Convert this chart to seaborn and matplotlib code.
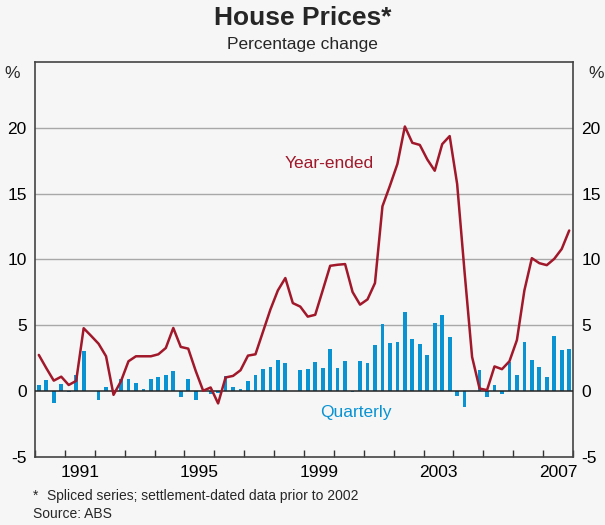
import numpy as np
import pandas as pd
import matplotlib
import matplotlib.pyplot as plt
import seaborn as sns

matplotlib.use('agg')

# quarterly data, 1990Q1 .. 2007Q4
quarters = pd.period_range('1990Q1', '2007Q4', freq='Q')
quarterly = [0.5, 0.88, -0.88, 0.58, -0.1, 1.19, 3.05, 0.0, -0.68, 0.28,
             0.0, 0.93, 0.93, 0.63, 0.13, 0.93, 1.09, 1.19, 1.54, -0.43,
             0.96, -0.68, 0.0, -0.2, -0.15, 1.16, 0.28, 0.18, 0.81, 1.24,
             1.72, 1.87, 2.4, 2.12, 0.0, 1.59, 1.72, 2.25, 1.79, 3.23,
             1.79, 2.32, -0.1, 2.32, 2.15, 3.54, 5.13, 3.69, 3.74, 6.01,
             3.99, 3.61, 2.78, 5.2, 5.81, 4.14, -0.33, -1.21, 0.0, 1.64,
             -0.43, 0.5, -0.23, 2.22, 1.19, 3.74, 2.4, 1.82, 1.09, 4.19,
             3.1, 3.18]
year_ended = [2.75, 1.75, 0.8, 1.1, 0.47, 0.78, 4.78, 4.2, 3.6, 2.65,
              -0.28, 0.76, 2.27, 2.65, 2.65, 2.65, 2.8, 3.28, 4.8, 3.36,
              3.23, 1.54, 0.03, 0.28, -0.93, 1.04, 1.16, 1.59, 2.7, 2.8,
              4.5, 6.2, 7.65, 8.59, 6.69, 6.42, 5.66, 5.8, 7.65, 9.52,
              9.6, 9.65, 7.53, 6.57, 6.97, 8.21, 14.04, 15.6, 17.25, 20.1,
              18.86, 18.7, 17.6, 16.74, 18.76, 19.37, 15.73, 9.0, 2.6, 0.2,
              0.08, 1.88, 1.67, 2.27, 3.88, 7.65, 10.1, 9.72, 9.57, 10.05,
              10.8, 12.2]

df = pd.DataFrame({
    'date': [q.year + (q.quarter - 0.5) / 4 for q in quarters],
    'quarterly': quarterly,
    'year_ended': year_ended,
})

red = '#a0182a'
blue = '#0a93d3'
bg = '#f6f6f6'

sns.set_theme(style='white')
plt.rcParams['font.family'] = ['Liberation Sans', 'DejaVu Sans']

fig = plt.figure(figsize=(6.05, 5.25), dpi=100, facecolor=bg)
ax = fig.add_axes([0.058, 0.1295, 0.889, 0.7525])
ax.set_facecolor(bg)

for v in [5, 10, 15, 20]:
    ax.axhline(v, color='#a8a8a8', lw=1, zorder=0)

sns.barplot(data=df, x='date', y='quarterly', native_scale=True, width=0.5,
            color=blue, saturation=1, linewidth=0, edgecolor=blue,
            ax=ax, zorder=2)
ax.axhline(0, color='#222222', lw=1.1, zorder=3)
sns.lineplot(data=df, x='date', y='year_ended', color=red, lw=1.8, ax=ax, zorder=4)

ax.set_xlim(1990, 2008)
ax.set_ylim(-5, 25)
ax.set_xlabel('')
ax.set_ylabel('')

# year boundaries as inward ticks, labels centred in the year
ax.set_xticks(np.arange(1990, 2009))
ax.set_xticklabels([])
ax.set_xticks([1991.5, 1995.5, 1999.5, 2003.5, 2007.5], minor=True)
ax.set_xticklabels(['1991', '1995', '1999', '2003', '2007'], minor=True)
ax.tick_params(axis='x', which='major', direction='in', length=5, width=1,
               color='#333333', bottom=True)
ax.tick_params(axis='x', which='minor', length=0, labelsize=12.5, pad=6,
               colors='black')

yt = [-5, 0, 5, 10, 15, 20]
ax.set_yticks(yt)
ax.set_yticklabels([str(v) for v in yt])
ax.tick_params(axis='y', length=0, labelsize=12.5, pad=6, colors='black',
               left=True, right=True, labelleft=True, labelright=True)

for s in ax.spines.values():
    s.set_color('#444444')
    s.set_linewidth(1.2)

ax.text(-0.028, 0.972, '%', transform=ax.transAxes, ha='right', va='center',
        fontsize=12.5)
ax.text(1.028, 0.972, '%', transform=ax.transAxes, ha='left', va='center',
        fontsize=12.5)

ax.text(1999.85, 17.3, 'Year-ended', color=red, fontsize=12.5,
        ha='center', va='center')
ax.text(2000.75, -1.6, 'Quarterly', color=blue, fontsize=12.5,
        ha='center', va='center')

fig.text(0.5, 0.965, 'House Prices*', ha='center', va='center',
         fontsize=19, fontweight='bold')
fig.text(0.5, 0.915, 'Percentage change', ha='center', va='center',
         fontsize=12.5)
fig.text(0.054, 0.055, '*', ha='left', va='center', fontsize=10)
fig.text(0.077, 0.055, 'Spliced series; settlement-dated data prior to 2002',
         ha='left', va='center', fontsize=10)
fig.text(0.054, 0.02, 'Source: ABS', ha='left', va='center', fontsize=10)

fig.savefig('out.png', dpi=100, facecolor=bg)
